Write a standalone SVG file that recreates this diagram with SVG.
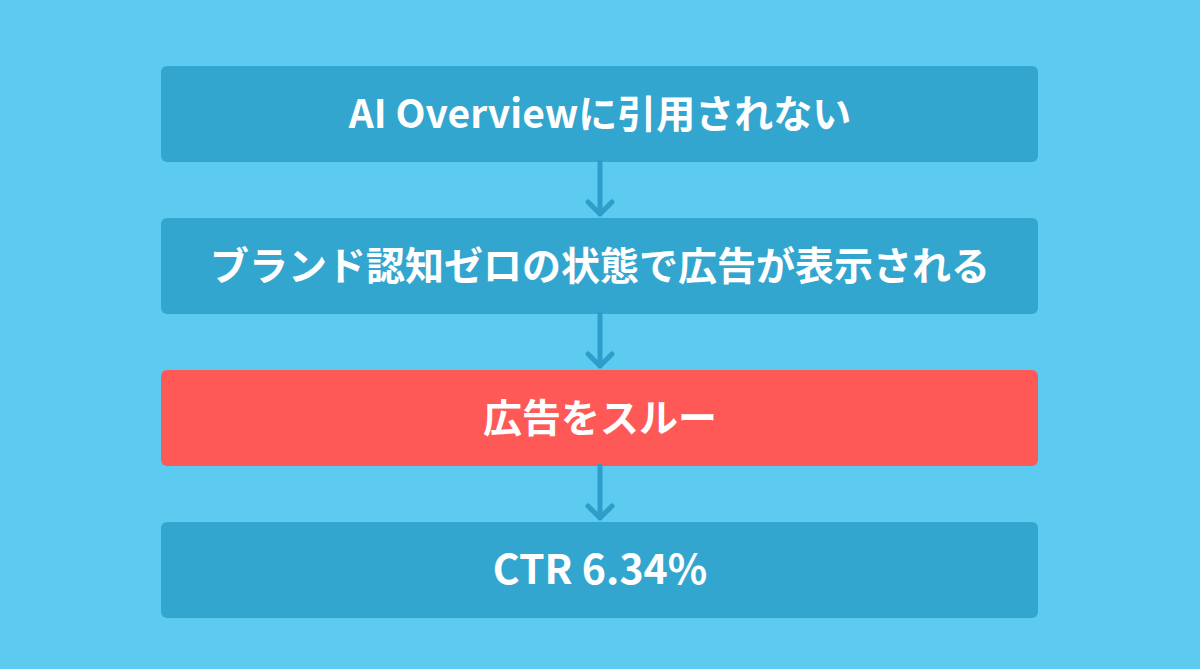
<svg xmlns="http://www.w3.org/2000/svg" width="1200" height="669" viewBox="0 0 1200 669">
<defs>
<style>
.box{fill:#33A6CF;}
.red{fill:#FF5957;}
.t{font-family:"Noto Sans CJK JP","Noto Sans",sans-serif;font-weight:700;font-size:39px;fill:#FFFFFF;text-anchor:middle;}
.c{stroke:#2E9DCA;stroke-width:5;fill:none;stroke-linecap:round;stroke-linejoin:round;}
</style>
</defs>
<rect width="1200" height="669" fill="#5DCBF0"/>
<g id="node1"><rect class="box" x="161" y="66" width="877" height="96" rx="6"/><text class="t" x="600" y="128">AI Overviewに引用されない</text></g>
<g id="node2"><rect class="box" x="161" y="218" width="877" height="96" rx="6"/><text class="t" x="600" y="280">ブランド認知ゼロの状態で広告が表示される</text></g>
<g id="node3"><rect class="red" x="161" y="370" width="877" height="96" rx="6"/><text class="t" x="600" y="432">広告をスルー</text></g>
<g id="node4"><rect class="box" x="161" y="522" width="877" height="96" rx="6"/><text class="t" x="600" y="584" style="font-size:41px">CTR 6.34%</text></g>
<g id="connectors">
<path class="c" d="M600 162 V214 M588 202 L600 214 L612 202"/>
<path class="c" d="M600 314 V366 M588 354 L600 366 L612 354"/>
<path class="c" d="M600 466 V518 M588 506 L600 518 L612 506"/>
</g>
</svg>
